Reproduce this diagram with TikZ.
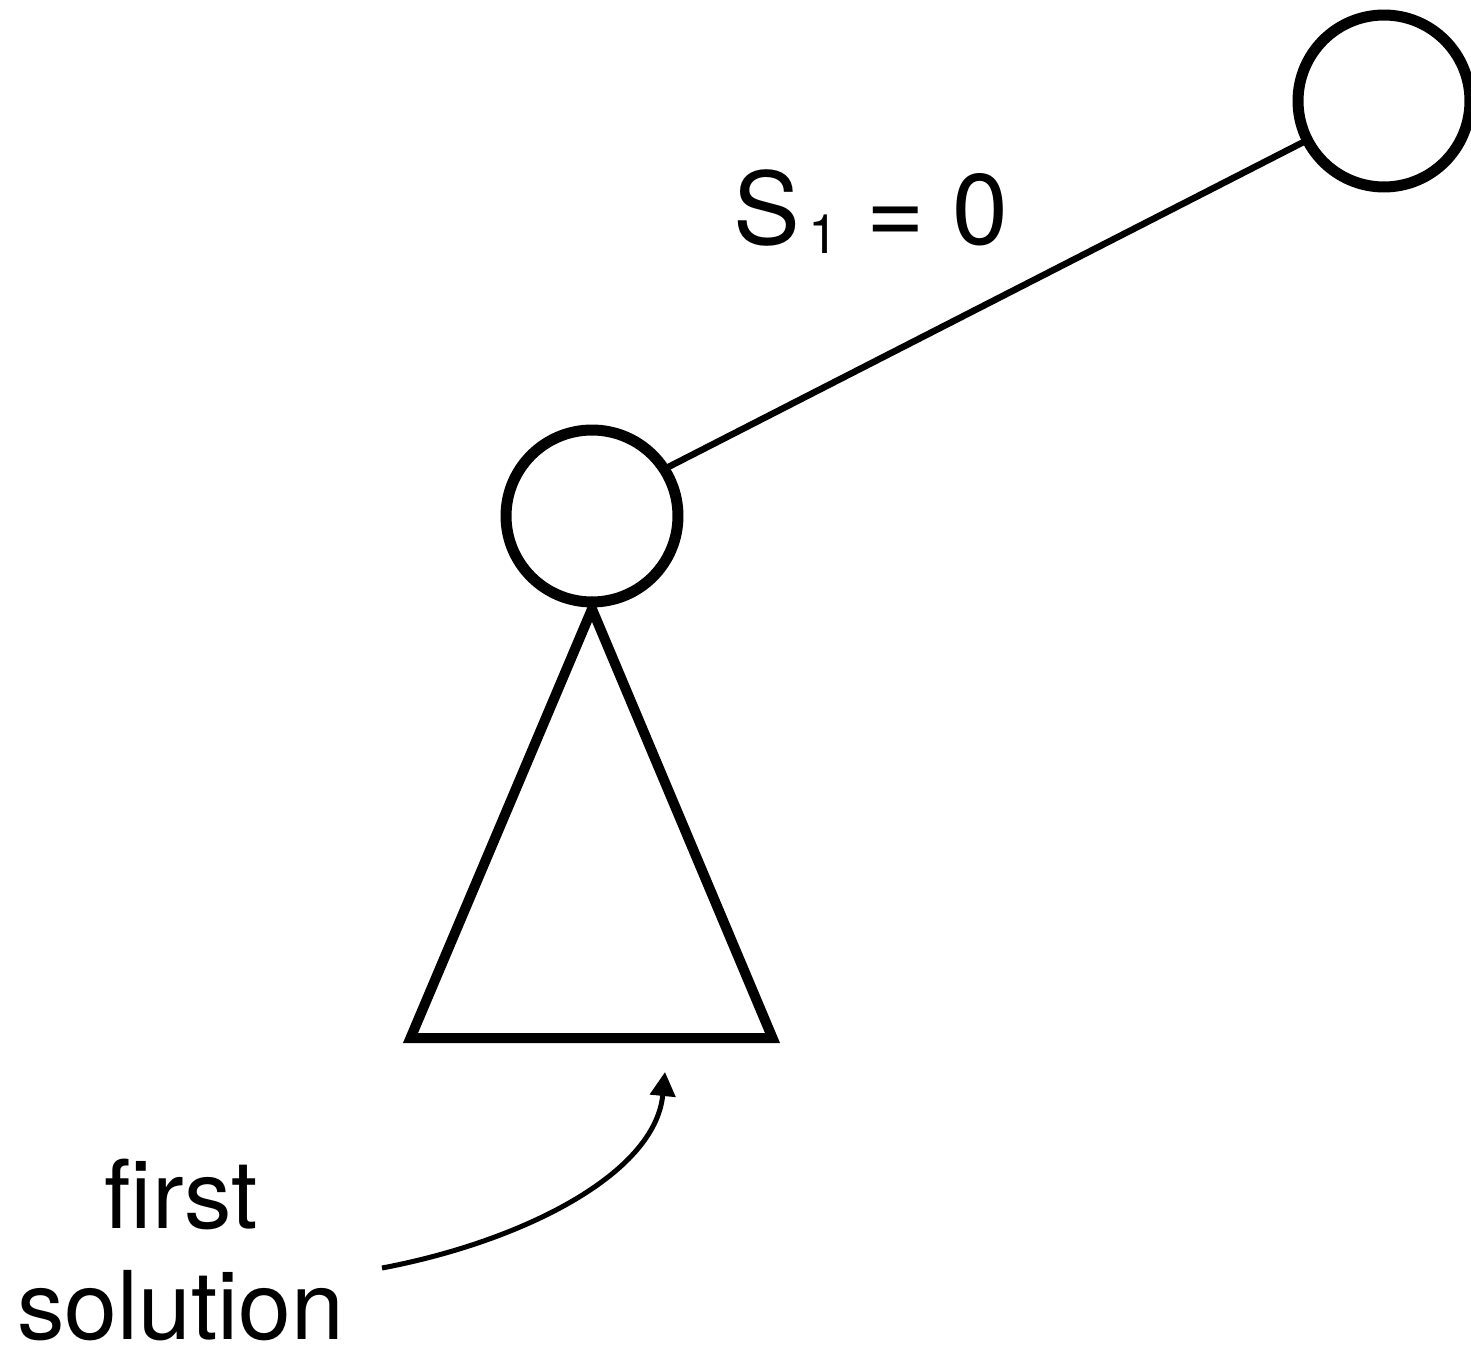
\documentclass[tikz,border=0pt]{standalone}
\usepackage{fontspec}
\setmainfont{TeX Gyre Heros}
\usetikzlibrary{arrows.meta}
\begin{document}
\begin{tikzpicture}[x=0.02cm,y=-0.02cm,
  treenode/.style={circle,draw,line width=0.22cm,minimum size=3.44cm,inner sep=0pt,outer sep=0pt},
  edgeline/.style={line width=0.13cm},
  subtree/.style={line width=0.2cm,line join=miter},
  pointer/.style={line width=0.1cm,-{Triangle[length=0.48cm,width=0.5cm]}},
  bigtext/.style={font=\fontsize{54pt}{65pt}\selectfont,inner sep=0pt}
]
\useasboundingbox (0,0) rectangle (1471,1351);
\node[treenode] (top) at (1384,101) {};
\node[treenode] (mid) at (592,516) {};
\draw[edgeline] (mid.33) -- (top.207);
\node[bigtext,font=\fontsize{57pt}{68pt}\selectfont,anchor=base] (lbl) at (871,245)
  {S\kern0.08em\raisebox{-0.08em}{\fontsize{31pt}{33pt}\selectfont 1} = 0};
\draw[subtree] (592,609) -- (410.5,1038) -- (772.5,1038) -- cycle;
\node[bigtext,anchor=base] (first) at (181,1228) {first};
\node[bigtext,anchor=base] (solution) at (181,1339) {solution};
\coordinate (arrstart) at (382,1268);
\coordinate (arrend) at (665,1072);
\draw[pointer] (arrstart) .. controls (520,1242) and (655,1175) .. (arrend);
\end{tikzpicture}
\end{document}
